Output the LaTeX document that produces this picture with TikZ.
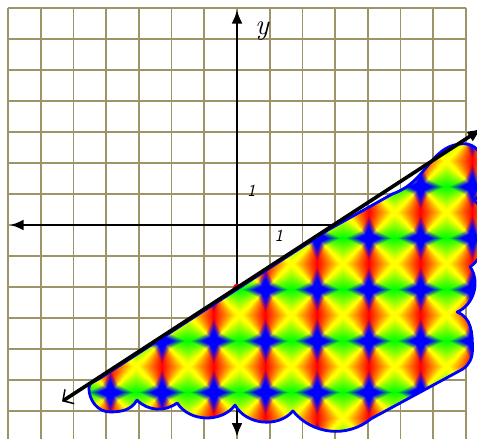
\documentclass[tikz,border=0pt]{standalone}
\usepackage{fontspec}
\usetikzlibrary{arrows.meta}

\definecolor{gridkhaki}{RGB}{158,148,105}

% hue pattern: blue crosses on a 51.7bp lattice, red/green/yellow in between
\pgfdeclarefunctionalshading{rainbowgrid}{\pgfpointorigin}{\pgfpoint{477bp}{438bp}}{}{
  46 sub 51.4 div dup floor sub 2 mul 1 sub abs 1 exch sub
  exch
  110 sub 51.7 div dup floor sub 2 mul 1 sub abs 1 exch sub
  0.001 add exch 0.001 add exch
  2 copy div 1.1 mul dup 1 gt {pop 1} if
  1 index 3 index div 1.1 mul dup 1 gt {pop 1} if
  3 index 3 index 2 copy gt {exch} if pop 2 mul
  4 index 4 index add 2 mul add 1.85 exch sub
  dup 0 lt {pop 0} if dup 1 gt {pop 1} if
  1 1 index sub
  3 index 1 index mul
  3 index 2 index mul
  3 index
  9 3 roll pop pop pop pop pop pop
}

\tikzset{
  gridline/.style={draw=gridkhaki, line width=1.7bp},
  axis/.style={line width=2.6bp, {Latex[length=14bp,width=11bp]}-{Latex[length=14bp,width=11bp]}},
  blobline/.style={draw=blue, line width=2.8bp, line join=round},
  graphline/.style={line width=3.6bp, {Straight Barb[length=8bp,width=17bp,line width=1.5bp]}-{Latex[length=15bp,width=12bp]}},
  lbl/.style={inner sep=0pt}
}

\begin{document}
\begin{tikzpicture}[x=32.7bp,y=31bp]
  \useasboundingbox[fill=white] (-7.248,-6.871) rectangle (7.339,7.258);
  % grid
  \foreach \gx in {-7,...,7} \draw[gridline] (\gx,-6.9) -- (\gx,7);
  \foreach \gy in {-6,...,7} \draw[gridline] (-7,\gy) -- (7,\gy);
  % axes
  \draw[axis] (-6.95,0) -- (7.3,0);
  \draw[axis] (0,-6.84) -- (0,6.95);
  \node[circle, fill=red, inner sep=0pt, minimum size=8bp] (yint) at (0,-2.02) {};
  % shaded half plane, cloud edge
  \path[blobline, path picture={
      \node[inner sep=0pt, outer sep=0pt, anchor=south west] (tex) at (-7.248,-6.871) {\pgfuseshading{rainbowgrid}};}]
    (-4.2,-4.95) -- (2.8,-0.15) -- (4.75,1.0)
    to[out=20,in=230] (5.9,2.0) to[out=50,in=180] (6.95,2.62)
    to[out=0,in=90] (7.5,2.0) to[out=-90,in=30] (7.25,0.81)
    to[bend left=50] (7.13,-1.35) to[bend left=50] (6.73,-2.81)
    to[out=-20,in=90] (7.2,-4.0) to[out=-90,in=35] (6.9,-4.65) -- (4.1,-6.25)
    to[bend left=45] (1.71,-6.0) to[bend left=55] (-0.06,-5.81)
    to[bend left=55] (-1.83,-5.74) to[bend left=40] (-3.06,-5.65)
    to[out=-120,in=0] (-3.88,-6.03) to[out=180,in=-90] (-4.53,-5.25)
    to[out=90,in=214] cycle;
  % the boundary line y = 2/3 x - 2
  \coordinate (lowend) at (-5.35,-5.69);
  \coordinate (highend) at (7.5,3.12);
  \draw[graphline] (lowend) -- (highend);
  % labels
  \node[lbl] (ylab) at (0.76,6.27) {\fontsize{29}{32}\selectfont\itshape y};
  \node[lbl] (yone) at (0.44,1.10) {\fontsize{17}{20}\selectfont\sffamily\itshape 1};
  \node[lbl] (xone) at (1.28,-0.35) {\fontsize{17}{20}\selectfont\sffamily\itshape 1};
\end{tikzpicture}
\end{document}
